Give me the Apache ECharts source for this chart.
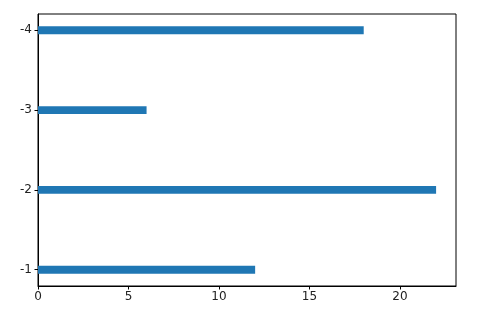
<!DOCTYPE html>
<html><head><meta charset="utf-8">
<script src="https://cdn.jsdelivr.net/npm/echarts@6/dist/echarts.min.js"></script>
<style>html,body{margin:0;padding:0;background:#fff}#c{width:488px;height:316px}</style>
</head><body><div id="c"></div>
<script>
const positions = [-1, -2, -3, -4];
const values = [12, 22, 6, 18];
const xTicks = [0, 5, 10, 15, 20];
const yTicks = [-1, -2, -3, -4];
const barHalf = 0.05;

const chart = echarts.init(document.getElementById('c'));
const axisCommon = {
  axisLine: {show: true, onZero: false, lineStyle: {color: '#000', width: 1}},
  axisTick: {show: true, length: 3.5, lineStyle: {color: '#000', width: 1}},
  splitLine: {show: false},
  axisLabel: {color: '#222', fontFamily: 'DejaVu Sans', fontSize: 12, margin: 5}
};
chart.setOption({
  animation: false,
  grid: {left: 38, top: 14, right: 32, bottom: 30, show: true, borderColor: '#000', borderWidth: 1},
  xAxis: Object.assign({}, axisCommon, {
    type: 'value', min: 0, max: 23.1,
    axisTick: Object.assign({}, axisCommon.axisTick, {customValues: xTicks}),
    axisLabel: Object.assign({}, axisCommon.axisLabel, {customValues: xTicks})
  }),
  yAxis: Object.assign({}, axisCommon, {
    type: 'value', min: -4.205, max: -0.795, inverse: true,
    axisTick: Object.assign({}, axisCommon.axisTick, {customValues: yTicks}),
    axisLabel: Object.assign({}, axisCommon.axisLabel, {customValues: yTicks, margin: 6})
  }),
  series: [{
    type: 'custom',
    data: positions.map((p, i) => [values[i], p]),
    renderItem: function (params, api) {
      const v = api.value(0), p = api.value(1);
      const a = api.coord([0, p - barHalf]);
      const b = api.coord([v, p + barHalf]);
      return {
        type: 'rect',
        shape: {x: Math.min(a[0], b[0]), y: Math.min(a[1], b[1]), width: Math.abs(b[0] - a[0]), height: Math.abs(b[1] - a[1])},
        style: {fill: '#1f77b4'}
      };
    }
  }]
});
</script></body></html>
